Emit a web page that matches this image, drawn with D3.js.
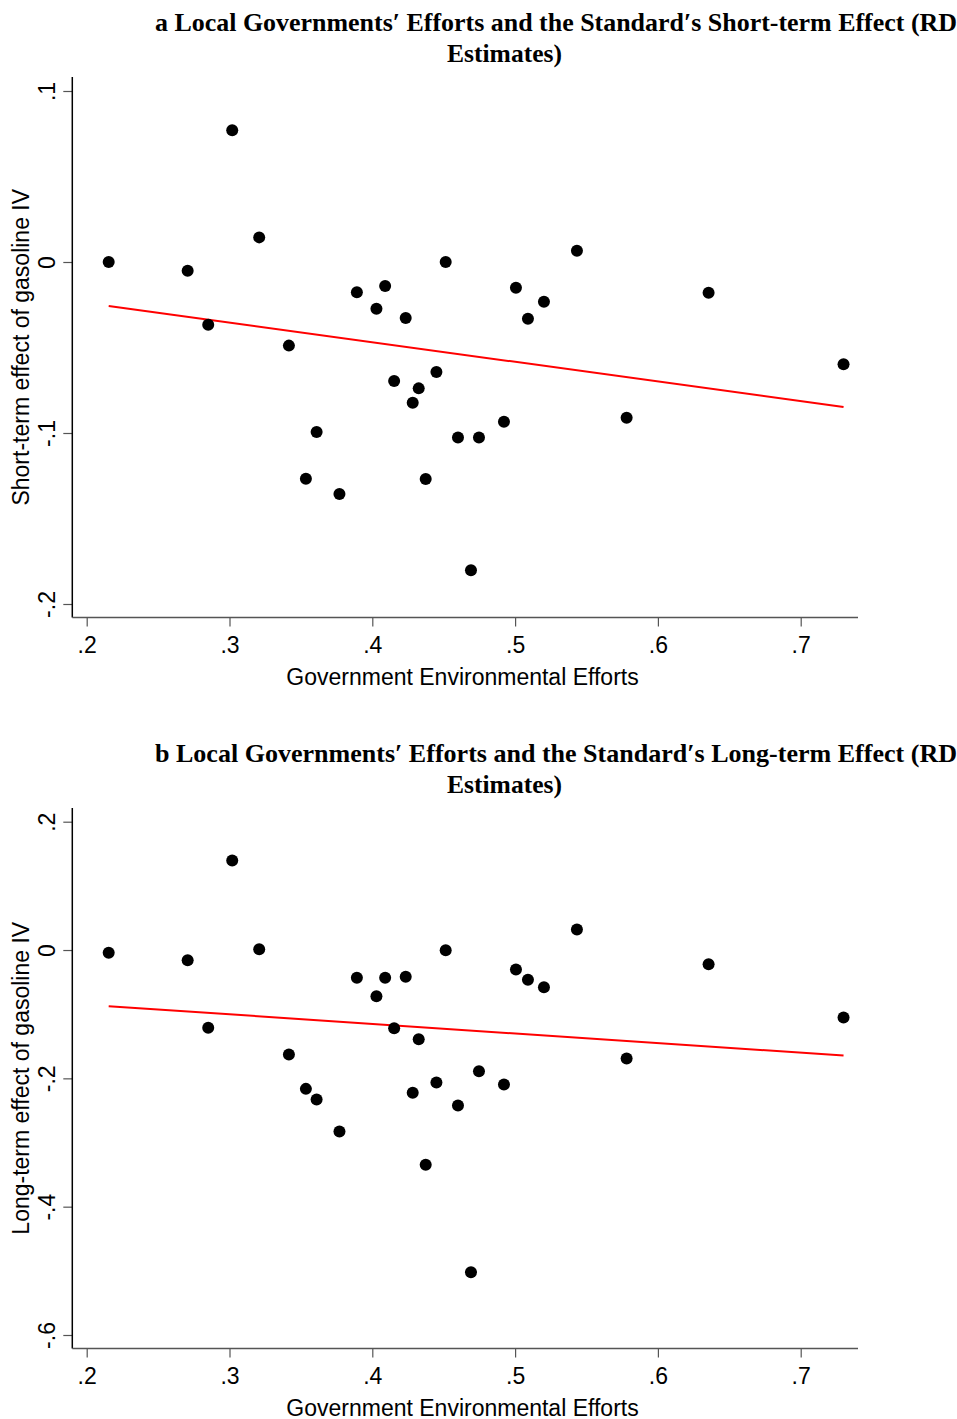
<!DOCTYPE html>
<html>
<head>
<meta charset="utf-8">
<script src="https://cdn.jsdelivr.net/npm/d3@7"></script>
<style>
  html, body { margin: 0; padding: 0; background: #fff; }
  svg { display: block; }
  .tick text { font-family: "Liberation Sans", Arial, sans-serif; }
</style>
</head>
<body>
<script>
// ---- Data ----
const efforts = [0.2154, 0.2707, 0.2851, 0.3019, 0.3208, 0.3416, 0.3535, 0.3610, 0.3770, 0.3892,
                 0.4029, 0.4090, 0.4153, 0.4234, 0.4283, 0.4325, 0.4374, 0.4449, 0.4514, 0.4600,
                 0.4691, 0.4747, 0.4922, 0.5006, 0.5090, 0.5202, 0.5433, 0.5781, 0.6355, 0.7300];
const shortTerm = [0.000, -0.0051, -0.0367, 0.0770, 0.0144, -0.0489, -0.1267, -0.0994, -0.1357, -0.0177,
                   -0.0273, -0.0140, -0.0696, -0.0327, -0.0823, -0.0739, -0.1269, -0.0643, 0.000, -0.1027,
                   -0.1803, -0.1027, -0.0934, -0.0150, -0.0332, -0.0232, 0.0066, -0.0911, -0.0180, -0.0598];
const longTerm = [-0.0044, -0.0159, -0.1213, 0.1395, 0.0012, -0.1629, -0.2164, -0.2330, -0.2829, -0.0433,
                  -0.0720, -0.0433, -0.1219, -0.0418, -0.2226, -0.1390, -0.3348, -0.2065, -0.0003, -0.2424,
                  -0.5023, -0.1889, -0.2097, -0.0304, -0.0465, -0.0580, 0.0320, -0.1691, -0.0221, -0.1052];
// fitted line values at the minimum and maximum x
const fitShort = [-0.0257, -0.0848];
const fitLong = [-0.0876, -0.1645];

const xTicks = [0.2, 0.3, 0.4, 0.5, 0.6, 0.7];
const xTickLabels = [".2", ".3", ".4", ".5", ".6", ".7"];
const yTicksA = [0.1, 0, -0.1, -0.2];
const yTickLabelsA = [".1", "0", "-.1", "-.2"];
const yTicksB = [0.2, 0, -0.2, -0.4, -0.6];
const yTickLabelsB = [".2", "0", "-.2", "-.4", "-.6"];

const titleA = ["a Local Governments\u2032 Efforts and the Standard\u2032s Short-term Effect (RD", "Estimates)"];
const titleB = ["b Local Governments\u2032 Efforts and the Standard\u2032s Long-term Effect (RD", "Estimates)"];
const xTitle = "Government Environmental Efforts";
const yTitleA = "Short-term effect of gasoline IV";
const yTitleB = "Long-term effect of gasoline IV";

// ---- Drawing ----
const W = 957, H = 1419;
const svg = d3.select("body").append("svg").attr("width", W).attr("height", H);

const x = d3.scaleLinear().domain([0.2, 0.7]).range([86.7, 800.7]);
const SANS = "'Liberation Sans', Arial, sans-serif";
const SERIF = "'Liberation Serif', 'Times New Roman', serif";

function panel(cfg) {
  const g = svg.append("g");
  const y = d3.scaleLinear().domain(cfg.yDomain).range(cfg.yRange);
  const left = 72.3, right = 858;

  // title
  g.append("text")
    .attr("x", 155).attr("y", cfg.titleY)
    .attr("font-family", SERIF)
    .attr("font-weight", "bold").attr("font-size", 24.5)
    .attr("textLength", 802).attr("lengthAdjust", "spacingAndGlyphs")
    .text(cfg.title[0]);
  g.append("text")
    .attr("x", 447).attr("y", cfg.titleY + 31)
    .attr("font-family", SERIF)
    .attr("font-weight", "bold").attr("font-size", 24.5)
    .attr("textLength", 115).attr("lengthAdjust", "spacingAndGlyphs")
    .text(cfg.title[1]);

  // y axis
  const yAxis = d3.axisLeft(y).tickValues(cfg.yTicks).tickSize(9)
    .tickFormat((d, i) => cfg.yLabels[i]);
  const ya = g.append("g").attr("transform", `translate(${left},0)`).call(yAxis);
  ya.select(".domain").remove();
  ya.selectAll(".tick line").attr("stroke", "#555").attr("stroke-width", 1.2);
  ya.selectAll(".tick text")
    .attr("x", null).attr("dy", null)
    .attr("transform", "translate(-17,0) rotate(-90)")
    .attr("text-anchor", "middle")
    .attr("font-size", 23).attr("fill", "#000");
  g.append("line").attr("x1", left).attr("x2", left)
    .attr("y1", cfg.frameTop).attr("y2", cfg.frameBottom)
    .attr("stroke", "#000").attr("stroke-width", 1.5);

  // x axis
  const xAxis = d3.axisBottom(x).tickValues(xTicks).tickSize(9)
    .tickFormat((d, i) => xTickLabels[i]);
  const xa = g.append("g").attr("transform", `translate(0,${cfg.frameBottom})`).call(xAxis);
  xa.select(".domain").remove();
  xa.selectAll(".tick line").attr("stroke", "#555").attr("stroke-width", 1.2);
  xa.selectAll(".tick text").attr("y", 35.5).attr("dy", null)
    .attr("font-size", 23).attr("fill", "#000");
  g.append("line").attr("x1", left).attr("x2", right)
    .attr("y1", cfg.frameBottom).attr("y2", cfg.frameBottom)
    .attr("stroke", "#555").attr("stroke-width", 1.5);

  // axis titles
  g.append("text")
    .attr("x", 462.5).attr("y", cfg.frameBottom + 67)
    .attr("text-anchor", "middle")
    .attr("font-family", SANS)
    .attr("font-size", 23).text(xTitle);
  g.append("text")
    .attr("transform", `translate(29,${(cfg.frameTop + cfg.frameBottom) / 2}) rotate(-90)`)
    .attr("text-anchor", "middle")
    .attr("font-family", SANS)
    .attr("font-size", 23).text(cfg.yTitle);

  // fit line
  const xMin = d3.min(efforts), xMax = d3.max(efforts);
  g.append("line")
    .attr("x1", x(xMin)).attr("y1", y(cfg.fit[0]))
    .attr("x2", x(xMax)).attr("y2", y(cfg.fit[1]))
    .attr("stroke", "#ff0000").attr("stroke-width", 2);

  // points
  g.append("g").selectAll("circle")
    .data(efforts.map((e, i) => [e, cfg.values[i]]))
    .join("circle")
    .attr("cx", d => x(d[0])).attr("cy", d => y(d[1]))
    .attr("r", 6).attr("fill", "#000");
}

panel({
  title: titleA, titleY: 31,
  yDomain: [0.1, -0.2], yRange: [91, 604],
  yTicks: yTicksA, yLabels: yTickLabelsA,
  frameTop: 77, frameBottom: 617.5,
  yTitle: yTitleA, values: shortTerm, fit: fitShort
});
panel({
  title: titleB, titleY: 762,
  yDomain: [0.2, -0.6], yRange: [821.7, 1335],
  yTicks: yTicksB, yLabels: yTickLabelsB,
  frameTop: 808, frameBottom: 1348.5,
  yTitle: yTitleB, values: longTerm, fit: fitLong
});
</script>
</body>
</html>
